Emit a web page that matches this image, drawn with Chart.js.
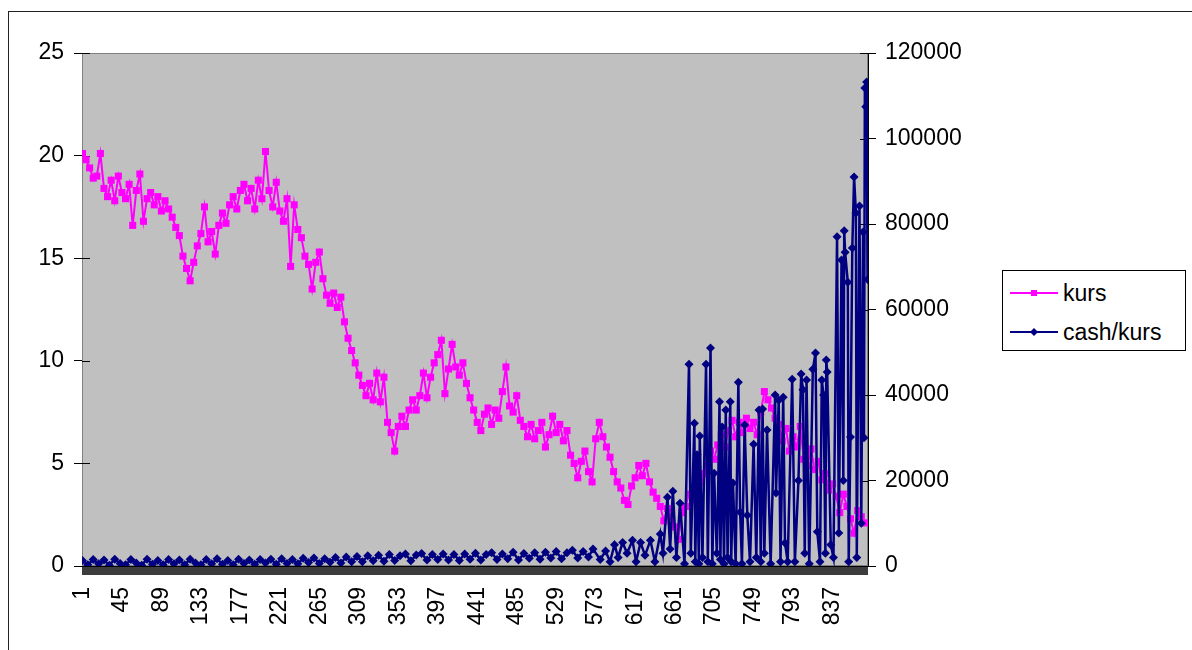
<!DOCTYPE html>
<html>
<head>
<meta charset="utf-8">
<script src="https://cdn.jsdelivr.net/npm/chart.js@4.4.1/dist/chart.umd.min.js"></script>
<style>
    body { margin: 0; background: #fff; font-family: "Liberation Sans", Arial, sans-serif; }
    #wrap { position: relative; width: 1192px; height: 650px; overflow: hidden; }
    #frame { position: absolute; left: 8px; top: 11px; width: 1300px; height: 800px; border: 1px solid #222; }
    #c { position: absolute; left: 0; top: 0; }
    #legend { position: absolute; left: 1002px; top: 270px; width: 182px; height: 79px; border: 1px solid #000; background: #fff; }
    .row { position: absolute; left: 7px; height: 30px; display: flex; align-items: center; font-size: 23px; color: #000; }
    .row svg { margin-right: 5px; }
</style>
</head>
<body>
<div id="wrap">
    <div id="frame"></div>
    <canvas id="c" width="1192" height="650"></canvas>
    <div id="legend">
        <div class="row" style="top: 7px;">
            <svg width="48" height="12"><line x1="0" y1="6" x2="48" y2="6" stroke="#ff00ff" stroke-width="2"/><rect x="21" y="3" width="6" height="6" fill="#ff00ff"/></svg>kurs
        </div>
        <div class="row" style="top: 46px;">
            <svg width="48" height="12"><line x1="0" y1="6" x2="48" y2="6" stroke="#000080" stroke-width="2"/><polygon points="24,2 28,6 24,10 20,6" fill="#000080"/></svg>cash/kurs
        </div>
    </div>
</div>
<script>
// x axis: trading days 1..876, label every 44th
const dayCount = 876;
const labelStep = 44;

// kurs, read every 4th day starting at day 1
const kursStep = 4;
const kurs = [
    20.1, 19.8, 19.4, 18.9, 19.0, 20.1, 18.4, 18.0, 18.8, 17.8,
    19.0, 18.2, 17.9, 18.6, 16.6, 18.3, 19.1, 16.8, 17.9, 18.2,
    17.6, 18.0, 17.3, 17.8, 17.4, 17.0, 16.5, 16.1, 15.1, 14.5,
    13.9, 14.8, 15.6, 16.2, 17.5, 15.8, 16.3, 15.2, 16.6, 17.2,
    16.7, 17.6, 18.0, 17.4, 18.3, 18.6, 17.8, 18.4, 17.4, 18.8,
    17.9, 20.2, 18.3, 17.5, 18.7, 17.3, 16.8, 17.9, 14.6, 17.6,
    16.4, 16.0, 15.1, 14.7, 13.5, 14.8, 15.3, 14.0, 13.2, 12.8,
    13.3, 12.6, 13.1, 11.9, 11.1, 10.5, 9.9, 9.3, 8.8, 8.3,
    8.9, 8.1, 9.4, 8.0, 9.2, 7.0, 6.5, 5.6, 6.8, 7.3,
    6.8, 7.6, 8.1, 7.6, 8.3, 9.4, 8.2, 9.2, 9.9, 10.3,
    11.0, 8.4, 9.6, 10.8, 9.7, 9.3, 9.9, 8.9, 8.2, 7.6,
    7.0, 6.6, 7.4, 7.7, 6.9, 7.6, 7.2, 8.5, 9.7, 7.8,
    7.5, 8.3, 7.1, 6.8, 6.3, 6.9, 6.2, 6.6, 7.0, 5.8,
    6.4, 7.3, 6.5, 6.9, 6.1, 6.6, 5.4, 5.0, 4.3, 5.1,
    5.6, 4.6, 4.1, 6.2, 7.0, 6.3, 5.8, 5.3, 4.6, 4.1,
    3.8, 3.2, 3.0, 3.9, 4.3, 4.9, 4.4, 5.0, 4.1, 3.6,
    3.3, 2.9, 2.2, 2.8, 2.4, 1.9, 1.3, 2.6, 2.9, 3.5,
    3.8, 3.2, 4.1, 4.5, 4.9, 5.6, 5.2, 5.9, 6.4, 5.8,
    6.6, 7.1, 6.3, 7.0, 6.5, 7.2, 6.7, 7.0, 6.4, 7.5,
    8.5, 8.1, 7.7, 7.2, 6.9, 6.1, 6.7, 5.6, 6.3, 5.8,
    6.8, 5.2, 4.9, 5.7, 4.7, 5.1, 4.2, 4.5, 3.7, 4.0,
    3.4, 2.6, 3.5, 2.9, 2.3, 1.6, 2.7, 2.4, 2.1
];

// cash/kurs, quiet part read every 6th day starting at day 1
const cashStep = 6;
const cashEarly = [
    1300, 300, 1500, 500, 1400, 200, 1600, 600, 300, 1500, 700, 200, 1600, 400, 1300, 300, 1500,
    500, 1400, 300, 1600, 700, 300, 1500, 500, 1700, 400, 1300, 300, 1600, 600, 1400, 400, 1500,
    700, 1600, 400, 1700, 600, 1500, 500, 1800, 800, 1900, 600, 1700, 900, 2000, 700, 2100, 1000,
    2200, 1000, 2400, 1200, 2500, 1100, 2700, 1300, 2400, 2800, 1200, 2600, 2900, 1400, 2700, 1500, 2800,
    1400, 2700, 1300, 2800, 1600, 3000, 1400, 2700, 3100, 1500, 2800, 1700, 3200, 1400, 2900, 1800, 3100,
    1600, 3200, 1900, 3400, 1700, 3100, 3700, 1900, 3400, 2100
];

// cash/kurs, spiky part: day and value
const cashLateDay = [
    570, 578, 584, 589, 594, 598, 603, 608, 614, 618, 623, 628, 634, 639, 645, 648,
    653, 656, 659, 663, 667, 672, 677, 679, 683, 684, 686, 688, 689, 692, 696, 698,
    701, 703, 705, 708, 709, 711, 712, 714, 716, 718, 720, 723, 724, 726, 729, 732,
    734, 736, 739, 742, 745, 749, 752, 755, 757, 759, 761, 764, 768, 773, 774, 777,
    779, 782, 784, 787, 792, 795, 799, 802, 804, 806, 808, 811, 815, 818, 820, 823,
    825, 827, 829, 830, 831, 835, 838, 842, 844, 847, 849, 850, 851, 854, 855, 857,
    859, 861, 863, 864, 867, 869, 871, 872, 873, 874, 875, 876
];
const cashLateVal = [
    4000, 1500, 3500, 1000, 5000, 2000, 5500, 3000, 6000, 1000, 5500, 2500, 6000, 1000, 7500, 3000,
    16100, 4000, 17500, 2000, 14700, 500, 47200, 3000, 33400, 1000, 26000, 500, 30400, 2000, 47200, 1000,
    51000, 500, 21700, 3000, 11200, 38400, 1500, 32500, 500, 36500, 2000, 38400, 1000, 19400, 500, 43000,
    12600, 500, 33000, 11900, 1000, 28500, 2000, 36500, 1000, 36700, 3000, 31800, 500, 40000, 17100, 38800,
    1000, 39500, 5400, 1000, 43700, 1000, 20000, 44900, 41200, 3000, 43500, 500, 46000, 49800, 8000, 1000,
    43500, 40000, 3000, 48200, 45400, 5000, 2000, 77000, 7700, 71600, 20000, 78400, 73400, 66400, 1000, 30200,
    74400, 91000, 82600, 2000, 84200, 10000, 78100, 30000, 111800, 107400, 113200, 67000
];

const days = Array.from({ length: dayCount }, (_, i) => i + 1);

const kursPoints = kurs.map((v, k) => ({ x: 1 + k * kursStep, y: v }));
const cashPoints = cashEarly.map((v, k) => ({ x: 1 + k * cashStep, y: v }))
    .concat(cashLateDay.map((d, k) => ({ x: d, y: cashLateVal[k] })));

const FONT = { family: '"Liberation Sans", Arial, sans-serif', size: 23 };

// grey plot area like excel
const plotBg = {
    id: 'plotBg',
    beforeDatasetsDraw(chart) {
        const { ctx, chartArea: a, scales } = chart;
        ctx.save();
        ctx.fillStyle = '#c0c0c0';
        ctx.fillRect(a.left, a.top, a.right - a.left, a.bottom - a.top);
        ctx.strokeStyle = '#808080';
        ctx.lineWidth = 1;
        ctx.strokeRect(a.left + 0.5, a.top + 0.5, a.right - a.left - 1, a.bottom - a.top - 1);
        // inner half of the cross tick marks on both value axes
        ctx.strokeStyle = '#000';
        ['y', 'y1'].forEach(id => {
            const s = scales[id];
            const x0 = id === 'y' ? a.left : a.right;
            const dir = id === 'y' ? 1 : -1;
            s.ticks.forEach(t => {
                const py = Math.round(s.getPixelForValue(t.value)) + 0.5;
                ctx.beginPath();
                ctx.moveTo(x0, py);
                ctx.lineTo(x0 + dir * 8, py);
                ctx.stroke();
            });
        });
        ctx.restore();
    }
};

new Chart(document.getElementById('c'), {
    type: 'line',
    data: {
        datasets: [
            {
                label: 'kurs',
                data: kursPoints,
                yAxisID: 'y',
                borderColor: '#ff00ff',
                backgroundColor: '#ff00ff',
                borderWidth: 2,
                pointStyle: 'rect',
                pointRadius: 5,
                pointBorderWidth: 0,
                tension: 0,
                order: 1
            },
            {
                label: 'cash/kurs',
                data: cashPoints,
                yAxisID: 'y1',
                borderColor: '#000080',
                backgroundColor: '#000080',
                borderWidth: 2.5,
                pointStyle: 'rectRot',
                pointRadius: 4.5,
                pointBorderWidth: 0,
                tension: 0,
                order: 0
            }
        ]
    },
    options: {
        responsive: false,
        animation: false,
        layout: { padding: { top: 53 } },
        plugins: {
            legend: { display: false },
            tooltip: { enabled: false }
        },
        scales: {
            x: {
                type: 'linear',
                min: 0.5,
                max: dayCount + 0.5,
                afterBuildTicks: s => { s.ticks = days.map(v => ({ value: v })); },
                afterFit: s => { s.height = 84; },
                ticks: {
                    autoSkip: false,
                    minRotation: 90,
                    maxRotation: 90,
                    padding: 12,
                    color: '#000',
                    font: FONT,
                    callback: v => ((v - 1) % labelStep === 0 ? String(v) : '')
                },
                grid: { drawOnChartArea: false, tickLength: 9, color: '#3c3c3c', lineWidth: 1 },
                border: { color: '#000' }
            },
            y: {
                position: 'left',
                min: 0,
                max: 25,
                afterFit: s => { s.width = 82; },
                ticks: { stepSize: 5, padding: 10, color: '#000', font: FONT },
                grid: { drawOnChartArea: false, tickLength: 8, color: '#000' },
                border: { color: '#000' }
            },
            y1: {
                position: 'right',
                min: 0,
                max: 120000,
                afterFit: s => { s.width = 324; },
                ticks: { stepSize: 20000, padding: 9, color: '#000', font: FONT, callback: v => String(v) },
                grid: { drawOnChartArea: false, tickLength: 8, color: '#000' },
                border: { color: '#000' }
            }
        }
    },
    plugins: [plotBg]
});
</script>
</body>
</html>
